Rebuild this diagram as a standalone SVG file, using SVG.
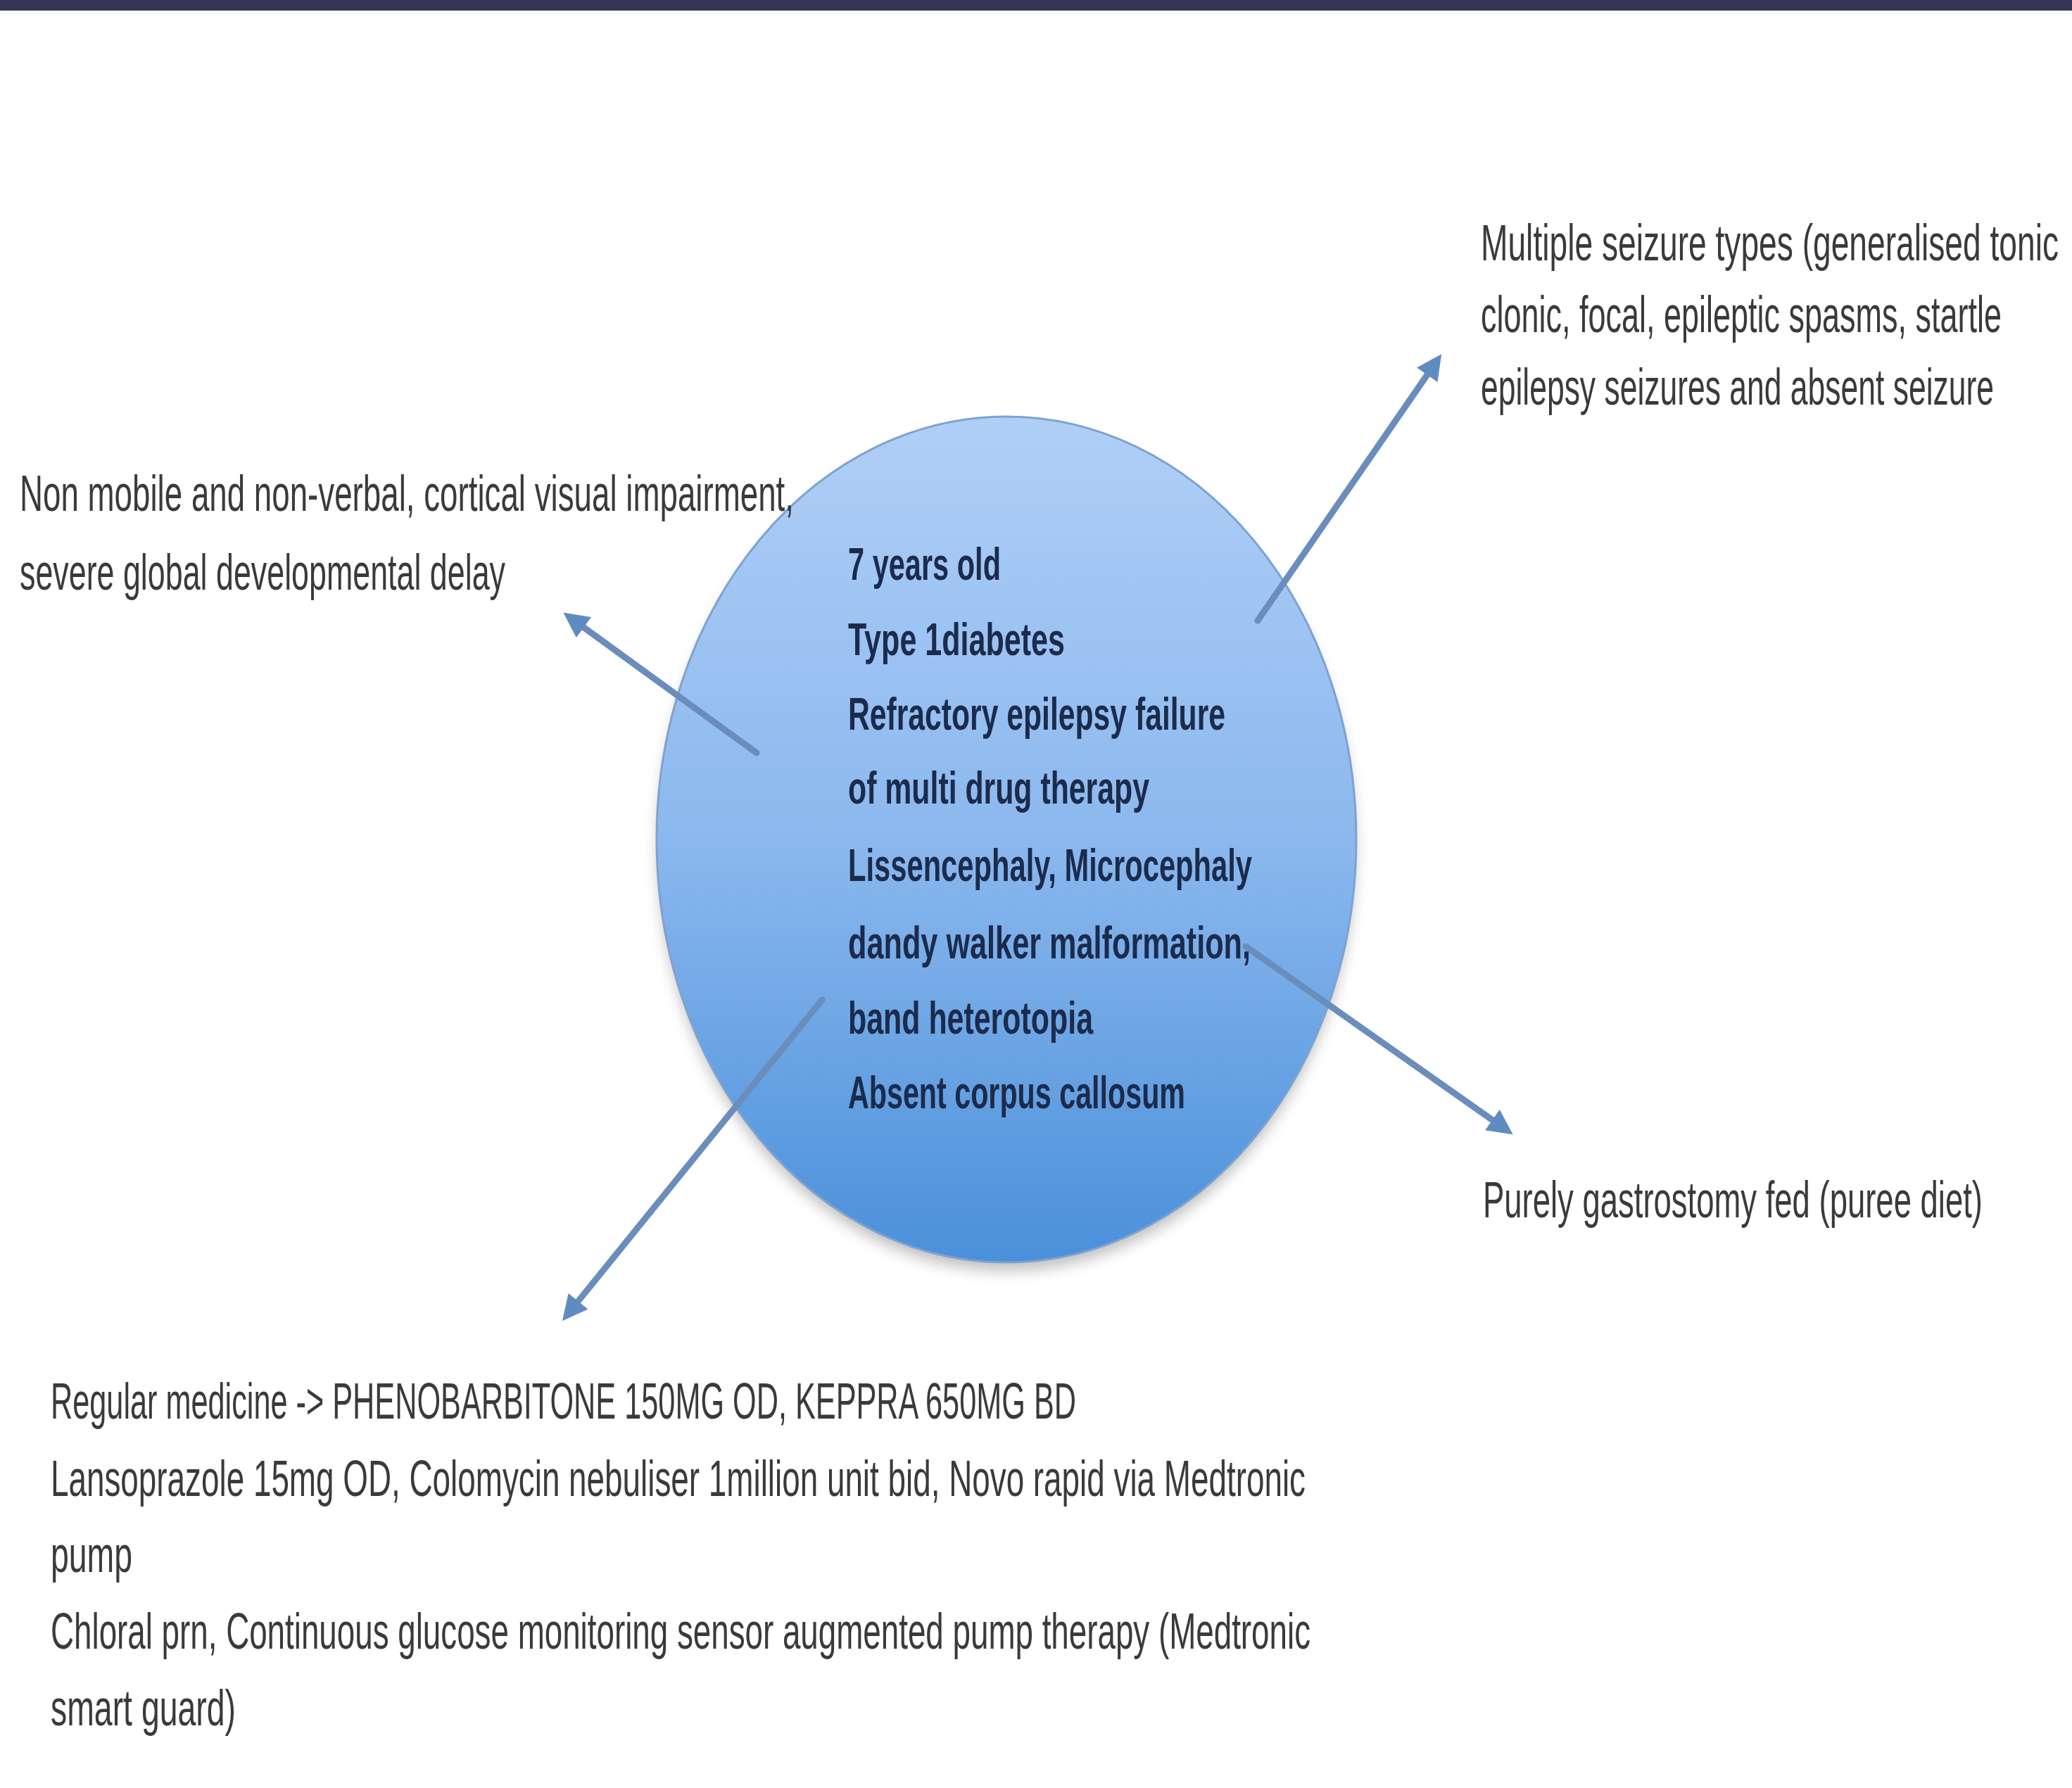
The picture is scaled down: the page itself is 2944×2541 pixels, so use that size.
<svg xmlns="http://www.w3.org/2000/svg" width="2944" height="2541" viewBox="0 0 2944 2541">
<style>
.lbl{font-family:"Liberation Sans Narrow","Liberation Sans",Arial,sans-serif;font-size:72px;fill:#3a3a3a}
.core{font-family:"Liberation Sans Narrow","Liberation Sans",Arial,sans-serif;font-size:64px;font-weight:bold;fill:#1c2b4c}
.conn{stroke:#6a8dbb;stroke-width:9;fill:none;stroke-linecap:round}
</style>
<defs>
<linearGradient id="ballGrad" x1="0" y1="0" x2="0" y2="1">
<stop offset="0" stop-color="#b0cff7"/>
<stop offset="0.5" stop-color="#8bb8ee"/>
<stop offset="1" stop-color="#4a90da"/>
</linearGradient>
<filter id="blur" x="-20%" y="-20%" width="140%" height="140%">
<feGaussianBlur stdDeviation="10"/>
</filter>
<marker id="arrow" viewBox="0 0 10 10" refX="6" refY="5" markerWidth="4" markerHeight="4" orient="auto" markerUnits="strokeWidth">
<path d="M0,0 L10,5 L0,10 Z" fill="#5f8cc0"/>
</marker>
</defs>
<rect width="2944" height="2541" fill="#ffffff"/>
<rect id="topbar" x="0" y="0" width="2944" height="15" fill="#363456"/>

<g id="center">
<ellipse cx="1430" cy="1208" rx="495" ry="598" fill="#8c8c8c" opacity="0.55" filter="url(#blur)"/>
<ellipse cx="1430" cy="1193" rx="497" ry="601" fill="url(#ballGrad)" stroke="#7fa2cf" stroke-width="3"/>
</g>

<g id="connectors">
<line class="conn" x1="1787" y1="882" x2="2040" y2="515" marker-end="url(#arrow)"/>
<line class="conn" x1="1075" y1="1070" x2="812" y2="879" marker-end="url(#arrow)"/>
<line class="conn" x1="1770" y1="1345" x2="2138" y2="1604" marker-end="url(#arrow)"/>
<line class="conn" x1="1168" y1="1421" x2="808" y2="1866" marker-end="url(#arrow)"/>
</g>

<g id="center-text">
<text class="core" x="1205" y="824" textLength="217" lengthAdjust="spacingAndGlyphs">7 years old</text>
<text class="core" x="1205" y="931" textLength="308" lengthAdjust="spacingAndGlyphs">Type 1diabetes</text>
<text class="core" x="1205" y="1037" textLength="536" lengthAdjust="spacingAndGlyphs">Refractory epilepsy failure</text>
<text class="core" x="1205" y="1142" textLength="428" lengthAdjust="spacingAndGlyphs">of multi drug therapy</text>
<text class="core" x="1205" y="1252" textLength="574" lengthAdjust="spacingAndGlyphs">Lissencephaly, Microcephaly</text>
<text class="core" x="1205" y="1362" textLength="572" lengthAdjust="spacingAndGlyphs">dandy walker malformation,</text>
<text class="core" x="1205" y="1469" textLength="348" lengthAdjust="spacingAndGlyphs">band heterotopia</text>
<text class="core" x="1205" y="1575" textLength="479" lengthAdjust="spacingAndGlyphs">Absent corpus callosum</text>
</g>

<g id="seizures">
<text class="lbl" transform="translate(2104,370) scale(0.5,1)" x="0" y="0" textLength="1642" lengthAdjust="spacingAndGlyphs">Multiple seizure types (generalised tonic</text>
<text class="lbl" transform="translate(2104,472) scale(0.5,1)" x="0" y="0" textLength="1480" lengthAdjust="spacingAndGlyphs">clonic, focal, epileptic spasms, startle</text>
<text class="lbl" transform="translate(2104,575) scale(0.5,1)" x="0" y="0" textLength="1458" lengthAdjust="spacingAndGlyphs">epilepsy seizures and absent seizure</text>
</g>

<g id="mobility">
<text class="lbl" x="28" y="726" textLength="1100" lengthAdjust="spacingAndGlyphs">Non mobile and non-verbal, cortical visual impairment,</text>
<text class="lbl" x="28" y="838" textLength="690" lengthAdjust="spacingAndGlyphs">severe global developmental delay</text>
</g>

<g id="feeding">
<text class="lbl" transform="translate(2107,1730) scale(0.5,1)" x="0" y="0" textLength="1420" lengthAdjust="spacingAndGlyphs">Purely gastrostomy fed (puree diet)</text>
</g>

<g id="medicines">
<text class="lbl" x="72" y="2016" textLength="1457" lengthAdjust="spacingAndGlyphs">Regular medicine -&gt; PHENOBARBITONE 150MG OD, KEPPRA 650MG BD</text>
<text class="lbl" x="72" y="2126" textLength="1783" lengthAdjust="spacingAndGlyphs">Lansoprazole 15mg OD, Colomycin nebuliser 1million unit bid, Novo rapid via Medtronic</text>
<text class="lbl" x="72" y="2234" textLength="116" lengthAdjust="spacingAndGlyphs">pump</text>
<text class="lbl" x="72" y="2343" textLength="1790" lengthAdjust="spacingAndGlyphs">Chloral prn, Continuous glucose monitoring sensor augmented pump therapy (Medtronic</text>
<text class="lbl" x="72" y="2452" textLength="263" lengthAdjust="spacingAndGlyphs">smart guard)</text>
</g>
</svg>
